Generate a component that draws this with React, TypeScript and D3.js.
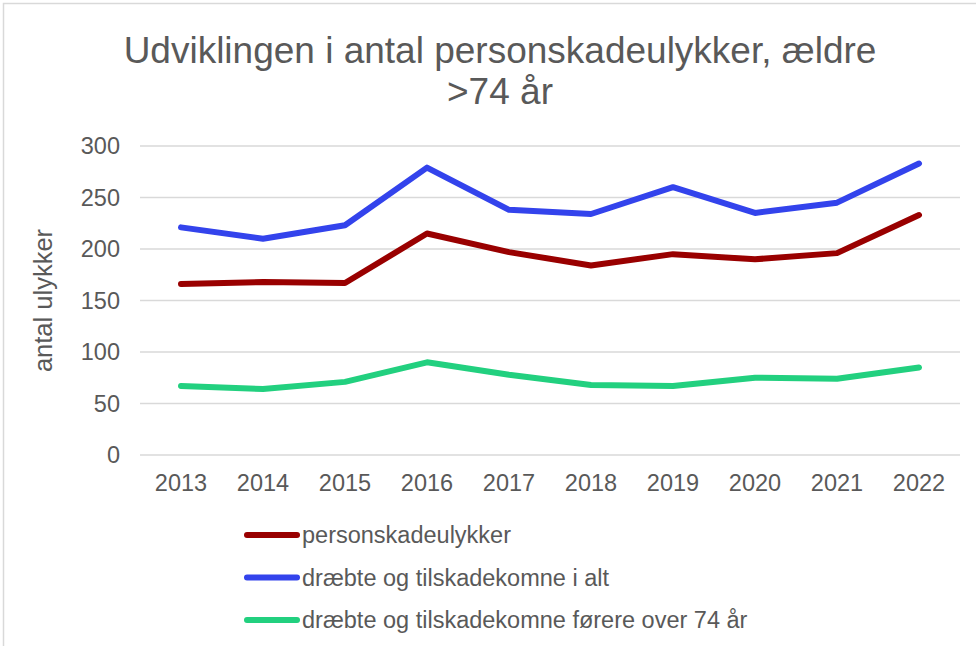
import React from 'react';
import * as d3 from 'd3';

const years = ['2013', '2014', '2015', '2016', '2017', '2018', '2019', '2020', '2021', '2022'];
const personskadeulykker = [166, 168, 167, 215, 197, 184, 195, 190, 196, 233];
const draebteIAlt = [221, 210, 223, 279, 238, 234, 260, 235, 245, 283];
const draebteFoerere = [67, 64, 71, 90, 78, 68, 67, 75, 74, 85];
const yTicks = [0, 50, 100, 150, 200, 250, 300];

const series = [
    { name: 'personskadeulykker', color: '#990000', values: personskadeulykker },
    { name: 'dræbte og tilskadekomne i alt', color: '#3343EC', values: draebteIAlt },
    { name: 'dræbte og tilskadekomne førere over 74 år', color: '#22D07F', values: draebteFoerere },
];

const width = 976;
const height = 646;
const font = '"Liberation Sans", Arial, sans-serif';
const textColor = '#595959';

export default function App() {
    const x = d3.scaleBand().domain(years).range([140, 960]);
    const y = d3.scaleLinear().domain([0, 300]).range([455, 146]);
    const line = d3.line<number>()
        .x((_, i) => x(years[i])! + x.bandwidth() / 2)
        .y(d => y(d));

    return (
        <svg width={width} height={height} style={{ position: 'absolute', left: 0, top: 0, background: '#fff' }}>
            <rect x={3.5} y={3.5} width={width + 10} height={height + 10} fill="#fff" stroke="#d9d9d9" strokeWidth={1.5} />
            <text x={500} y={63} textAnchor="middle" fontFamily={font} fontSize={37} fill={textColor}>
                Udviklingen i antal personskadeulykker, ældre
            </text>
            <text x={500} y={104} textAnchor="middle" fontFamily={font} fontSize={37} fill={textColor}>
                &gt;74 år
            </text>
            {yTicks.map(t => (
                <g key={t}>
                    <line x1={140} x2={960} y1={y(t)} y2={y(t)} stroke="#d9d9d9" strokeWidth={1.5} />
                    <text x={120} y={y(t)} dy="0.35em" textAnchor="end" fontFamily={font} fontSize={23.5} fill={textColor}>{t}</text>
                </g>
            ))}
            <text transform={`translate(52,${y(150)}) rotate(-90)`} textAnchor="middle" fontFamily={font} fontSize={25.5} fill={textColor}>
                antal ulykker
            </text>
            {years.map(yr => (
                <text key={yr} x={x(yr)! + x.bandwidth() / 2} y={491} textAnchor="middle" fontFamily={font} fontSize={23.5} fill={textColor}>{yr}</text>
            ))}
            {series.map(s => (
                <path key={s.name} d={line(s.values)!} fill="none" stroke={s.color} strokeWidth={6} strokeLinejoin="round" strokeLinecap="round" />
            ))}
            {series.map((s, i) => (
                <g key={s.name} transform={`translate(0,${535 + i * 42.5})`}>
                    <line x1={247} x2={297} y1={0} y2={0} stroke={s.color} strokeWidth={6} strokeLinecap="round" />
                    <text x={302} y={0} dy="0.35em" fontFamily={font} fontSize={23.5} fill={textColor}>{s.name}</text>
                </g>
            ))}
        </svg>
    );
}
